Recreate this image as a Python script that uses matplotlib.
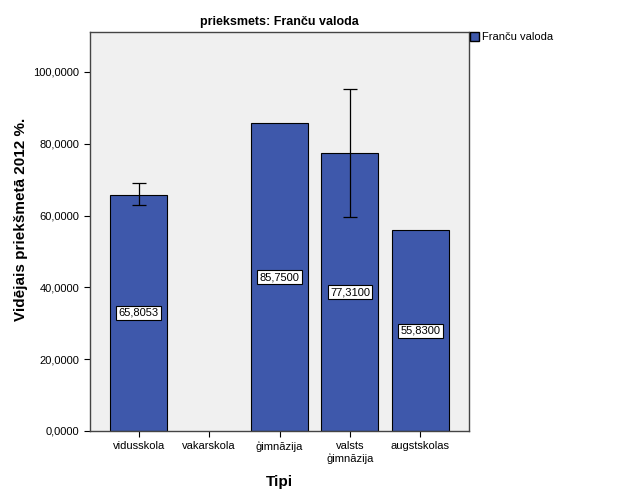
import matplotlib
matplotlib.use('Agg')
import matplotlib.pyplot as plt
from matplotlib.patches import Patch

categories = ['vidusskola', 'vakarskola', 'ģimnāzija', 'valsts\nģimnāzija', 'augstskolas']
means = [65.8053, None, 85.75, 77.31, 55.83]
labels = ['65,8053', None, '85,7500', '77,3100', '55,8300']
err_low = [62.8, None, None, 59.6, None]
err_high = [69.1, None, None, 95.2, None]
yticks = [0, 20, 40, 60, 80, 100]

BAR = '#3e58ab'
plt.rcParams['font.family'] = ['Liberation Sans', 'DejaVu Sans']

fig = plt.figure(figsize=(6.25, 5), dpi=100)
ax = fig.add_axes([90 / 625, 69 / 500, 379 / 625, 399 / 500])
ax.set_facecolor('#f0f0f0')

for i, m in enumerate(means):
    if m is None:
        continue
    ax.bar(i, m, width=0.81, color=BAR, edgecolor='black', linewidth=0.8, zorder=2)
    ax.text(i, m / 2, labels[i], ha='center', va='center', fontsize=8, zorder=4,
            bbox=dict(boxstyle='square,pad=0.2', fc='white', ec='black', lw=0.8))
    if err_low[i] is not None:
        ax.errorbar(i, m, yerr=[[m - err_low[i]], [err_high[i] - m]], fmt='none',
                    ecolor='black', elinewidth=0.9, capsize=5, capthick=0.9, zorder=3)

ax.set_xlim(-0.69, 4.69)
ax.set_ylim(0, 111.1)
ax.set_xticks(range(len(categories)))
ax.set_xticklabels(categories, fontsize=8)
ax.set_yticks(yticks)
ax.set_yticklabels([f'{v},0000' for v in yticks], fontsize=8)
ax.tick_params(length=4, width=0.8, direction='out')
for s in ax.spines.values():
    s.set_color('#444444')
    s.set_linewidth(1)

ax.set_title('prieksmets: Franču valoda', fontsize=9, fontweight='bold', pad=5)
ax.set_xlabel('Tipi', fontsize=11, fontweight='bold', labelpad=8)
ax.set_ylabel('Vidējais priekšmetā 2012 %.', fontsize=11, fontweight='bold')
ax.yaxis.set_label_coords(-0.163, 0.53)

fig.legend(handles=[Patch(facecolor=BAR, edgecolor='black', label='Franču valoda')],
           loc='upper left', bbox_to_anchor=(469 / 625, 1 - 31 / 500), frameon=False,
           fontsize=8, handlelength=0.8, handleheight=0.8, handletextpad=0.3,
           borderaxespad=0, borderpad=0.1)

fig.savefig('out.png', dpi=100)
